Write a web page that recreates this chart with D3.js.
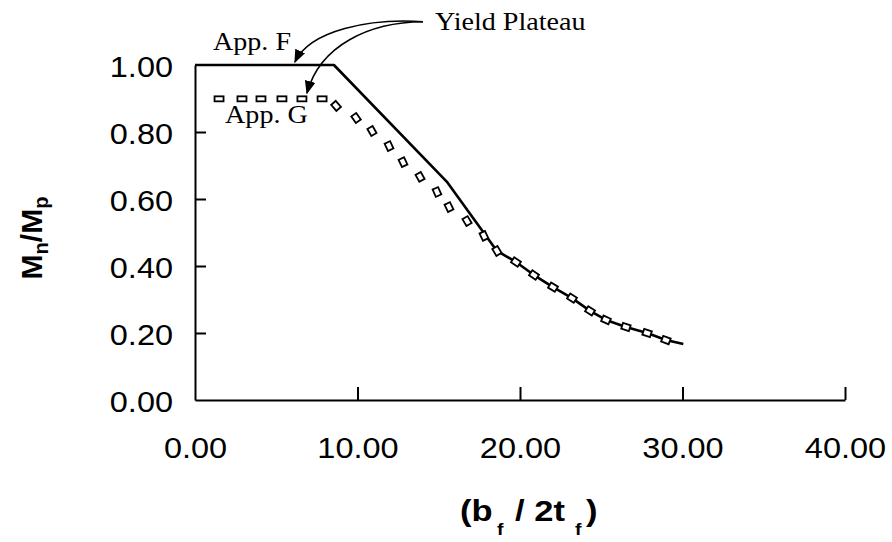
<!DOCTYPE html>
<html><head><meta charset="utf-8">
<script src="https://cdn.jsdelivr.net/npm/d3@7"></script>
<style>body{margin:0;background:#fff}</style>
</head><body>
<svg id="c" width="892" height="542"></svg>
<script>
// App. F (solid line)
const appF_x = [0, 8.55, 15.49, 18.58, 19.75, 20.86, 22.03, 23.2, 24.31, 25.29, 26.52, 27.82, 28.98, 30.05];
const appF_y = [1.0, 1.0, 0.652, 0.445, 0.412, 0.373, 0.337, 0.304, 0.266, 0.239, 0.218, 0.200, 0.179, 0.167];
// App. G (markers)
const appG_x = [1.48, 2.89, 4.06, 5.35, 6.58, 7.82, 8.68, 9.91, 10.89, 11.94, 12.80, 13.85, 14.89, 15.63, 16.74, 17.78, 18.58, 19.75, 20.86, 22.03, 23.2, 24.31, 25.29, 26.52, 27.82, 28.98];
const appG_y = [0.899, 0.899, 0.899, 0.899, 0.899, 0.899, 0.878, 0.842, 0.803, 0.758, 0.710, 0.666, 0.621, 0.576, 0.534, 0.490, 0.445, 0.412, 0.373, 0.337, 0.304, 0.266, 0.239, 0.218, 0.200, 0.179];
const xTicks = [0, 10, 20, 30, 40];
const yTicks = [0, 0.2, 0.4, 0.6, 0.8, 1.0];

const svg = d3.select("#c");
const x = d3.scaleLinear().domain([0, 40]).range([195, 845]);
const y = d3.scaleLinear().domain([0, 1]).range([400, 65]);

const sans = "Liberation Sans, Arial, Helvetica, sans-serif";
const serif = "Liberation Serif, Times New Roman, serif";
function stretch(sel, f) {
  sel.each(function () {
    const L = this.getComputedTextLength();
    this.setAttribute("textLength", (L * f).toFixed(1));
    this.setAttribute("lengthAdjust", "spacingAndGlyphs");
  });
}

// axes
const xAxis = d3.axisBottom(x).tickValues(xTicks).tickSizeInner(-13).tickSizeOuter(0).tickPadding(37).tickFormat(d3.format(".2f"));
const gx = svg.append("g").attr("transform", `translate(0,${y(0)})`).call(xAxis);
gx.select(".domain").attr("stroke", "#000").attr("stroke-width", 2);
gx.selectAll(".tick line").attr("stroke", "#000").attr("stroke-width", 2);
gx.selectAll(".tick").filter(d => d === 0).select("line").remove();
gx.selectAll("text").attr("font-family", sans).attr("font-size", 29).attr("fill", "#000");
stretch(gx.selectAll("text"), 1.12);

const yAxis = d3.axisLeft(y).tickValues(yTicks).tickSizeInner(-11).tickSizeOuter(0).tickPadding(22).tickFormat(d3.format(".2f"));
const gy = svg.append("g").attr("transform", `translate(${x(0)},0)`).call(yAxis);
gy.select(".domain").attr("stroke", "#000").attr("stroke-width", 2);
gy.selectAll(".tick line").attr("stroke", "#000").attr("stroke-width", 2);
gy.selectAll(".tick").filter(d => d === 0 || d === 1).select("line").remove();
gy.selectAll("text").attr("font-family", sans).attr("font-size", 29).attr("fill", "#000").attr("dy", "0.38em");
stretch(gy.selectAll("text"), 1.12);

// App F line
const fData = appF_x.map((v, i) => [v, appF_y[i]]);
svg.append("path").datum(fData)
  .attr("d", d3.line().x(d => x(d[0])).y(d => y(d[1])))
  .attr("fill", "none").attr("stroke", "#000").attr("stroke-width", 2.6).attr("stroke-linejoin", "round");

// App G markers
const gData = appG_x.map((v, i) => [v, appG_y[i]]);
svg.append("g").selectAll("rect").data(gData).join("rect")
  .attr("x", d => d[1] > 0.89 ? -4.5 : -4)
  .attr("y", d => d[1] > 0.89 ? -2.5 : -3)
  .attr("width", d => d[1] > 0.89 ? 9 : 8)
  .attr("height", d => d[1] > 0.89 ? 5 : 6)
  .attr("fill", "#fff").attr("stroke", "#000").attr("stroke-width", 1.8)
  .attr("transform", (d, i) => {
    const a = gData[Math.max(0, i - 1)], b = gData[Math.min(gData.length - 1, i + 1)];
    let ang = Math.atan2(y(b[1]) - y(a[1]), x(b[0]) - x(a[0])) * 180 / Math.PI;
    if (d[1] > 0.89) ang = 0;
    else if (d[1] > 0.43) ang = ang + 20;
    return `translate(${x(d[0])},${y(d[1])}) rotate(${ang})`;
  });

// arrow marker
svg.append("defs").append("marker").attr("id", "ah")
  .attr("viewBox", "0 0 10 10").attr("refX", 9).attr("refY", 5)
  .attr("markerWidth", 9).attr("markerHeight", 9).attr("orient", "auto")
  .append("path").attr("d", "M0,1 L10,5 L0,9 Z").attr("fill", "#000");

// annotations (data units)
const annStart = [14.03, 1.129];
const arrowF = [[10.77, 1.140], [7.08, 1.104], [6.15, 1.009]];
const arrowG = [[10.77, 1.128], [7.69, 1.06], [6.89, 0.916]];
[arrowF, arrowG].forEach(a => {
  const p = d3.path();
  p.moveTo(x(annStart[0]), y(annStart[1]));
  p.bezierCurveTo(x(a[0][0]), y(a[0][1]), x(a[1][0]), y(a[1][1]), x(a[2][0]), y(a[2][1]));
  svg.append("path").attr("d", p.toString()).attr("fill", "none").attr("stroke", "#000")
    .attr("stroke-width", 1.5).attr("marker-end", "url(#ah)");
});

const ann = svg.append("g").attr("font-family", serif).attr("font-size", 26).attr("fill", "#000");
ann.append("text").attr("x", x(14.77)).attr("y", y(1.104)).text("Yield Plateau");
ann.append("text").attr("x", x(1.11)).attr("y", y(1.045)).text("App. F");
ann.append("text").attr("x", x(1.85)).attr("y", y(0.827)).text("App. G");
stretch(ann.selectAll("text"), 1.08);

// y axis title
const yt = svg.append("text").attr("transform", "translate(42,238) rotate(-90)")
  .attr("text-anchor", "middle").attr("font-family", sans).attr("font-weight", "bold").attr("font-size", 30);
yt.append("tspan").text("M");
yt.append("tspan").attr("font-size", 20).attr("dy", 6).text("n");
yt.append("tspan").attr("dy", -6).text("/M");
yt.append("tspan").attr("font-size", 20).attr("dy", 6).text("p");

// x axis title
const xt = svg.append("g").attr("font-family", sans).attr("font-weight", "bold").attr("fill", "#000");
const xtParts = [
  {t: "(b", x: 460, y: 521, s: 30},
  {t: "f", x: 497, y: 535, s: 17},
  {t: "/ 2t", x: 515, y: 521, s: 30},
  {t: "f", x: 575, y: 535, s: 17},
  {t: ")", x: 586, y: 521, s: 30}
];
xt.selectAll("text").data(xtParts).join("text")
  .attr("x", d => d.x).attr("y", d => d.y).attr("font-size", d => d.s).text(d => d.t);
stretch(xt.selectAll("text"), 1.15);
</script>
</body></html>
